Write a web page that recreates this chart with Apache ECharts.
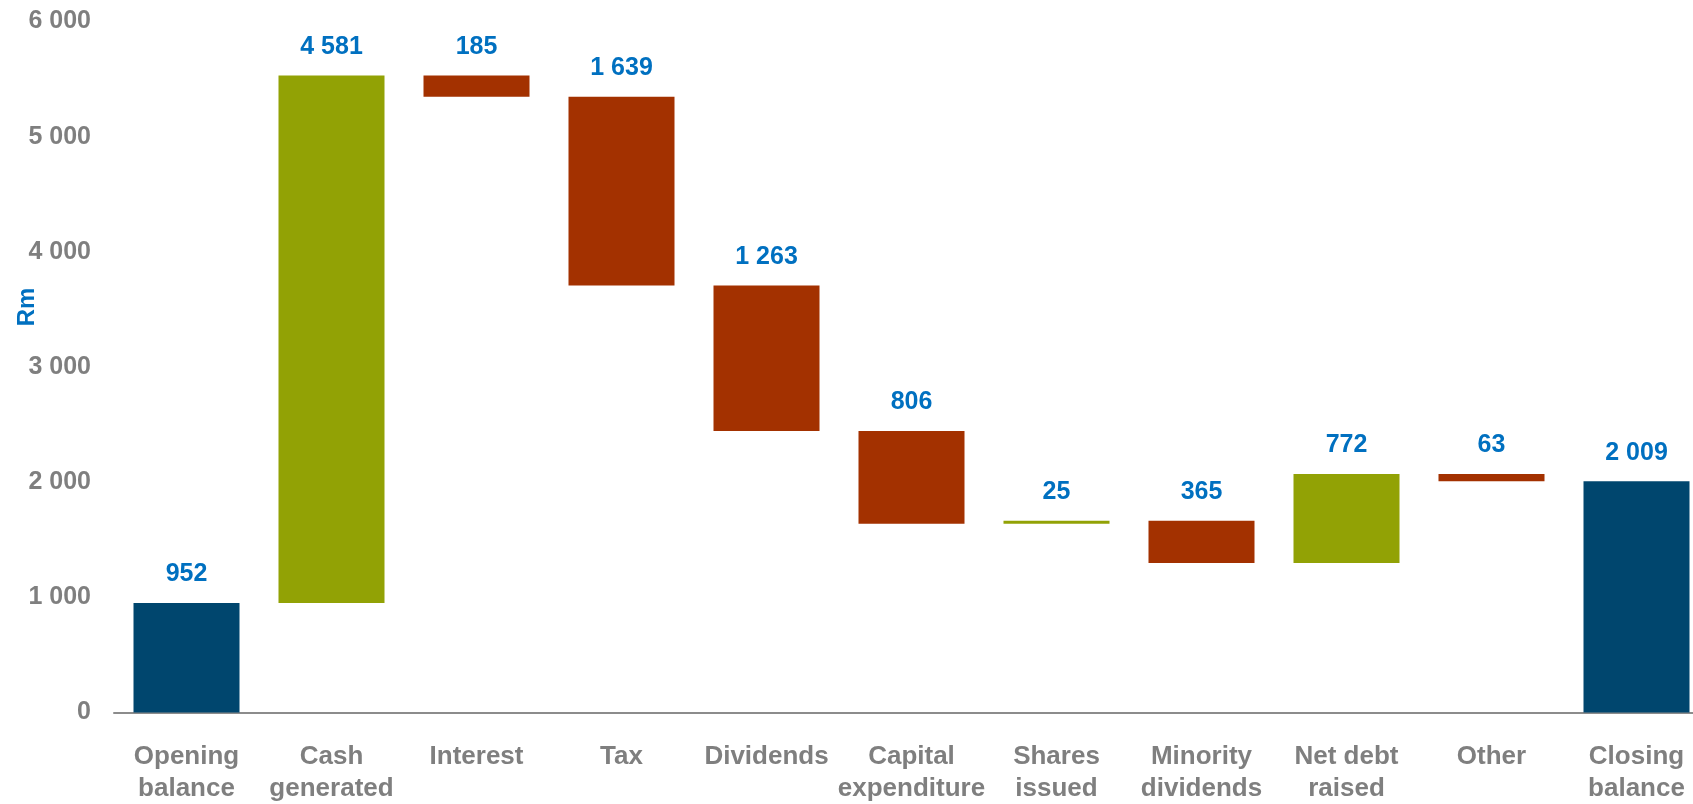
<!DOCTYPE html>
<html>
<head>
<meta charset="utf-8">
<title>Cash flow waterfall</title>
<script src="https://cdn.jsdelivr.net/npm/echarts@6/dist/echarts.min.js"></script>
<style>
  html, body { margin: 0; padding: 0; background: #ffffff; }
  #chart { width: 1693px; height: 804px; }
</style>
</head>
<body>
<div id="chart"></div>
<script>
// Cash movement, Rm
const categories = [
  'Opening\nbalance', 'Cash\ngenerated', 'Interest', 'Tax', 'Dividends',
  'Capital\nexpenditure', 'Shares\nissued', 'Minority\ndividends',
  'Net debt\nraised', 'Other', 'Closing\nbalance'
];
const amounts = [952, 4581, 185, 1639, 1263, 806, 25, 365, 772, 63, 2009];
// 'total' bars stand on zero; 'up' adds to the running balance, 'down' subtracts
const kinds = ['total', 'up', 'down', 'down', 'down', 'down', 'up', 'down', 'up', 'down', 'total'];
const yTicks = [0, 1000, 2000, 3000, 4000, 5000, 6000];

const colors = { total: '#00466E', up: '#92A205', down: '#A33100' };
const textGray = '#7F7F7F';
const valueBlue = '#0070C0';
const fontFamily = '"Liberation Sans", Arial, sans-serif';

function fmt(v) {
  return String(v).replace(/\B(?=(\d{3})+(?!\d))/g, ' ');
}

// running balance -> invisible base + visible segment for each bar
const bases = [];
const segments = [];
let running = 0;
amounts.forEach((v, i) => {
  const k = kinds[i];
  if (k === 'total') {
    bases.push(0);
    running = v;
  } else if (k === 'up') {
    bases.push(running);
    running += v;
  } else {
    running -= v;
    bases.push(running);
  }
  segments.push({ value: v, itemStyle: { color: colors[k] } });
});

const chart = echarts.init(document.getElementById('chart'), null, { renderer: 'canvas' });
chart.setOption({
  animation: false,
  backgroundColor: '#ffffff',
  // the plot runs slightly past the right edge, so the last bar sits flush with it
  grid: {
    left: 114, right: -16, top: 21.6, bottom: 91.4,
    containLabel: false,
    outerBoundsMode: 'none'
  },
  xAxis: {
    type: 'category',
    data: categories,
    axisLine: { show: true, lineStyle: { color: '#8C8C8C', width: 2 } },
    axisTick: { show: false },
    axisLabel: {
      interval: 0,
      margin: 28,
      color: textGray,
      fontFamily: fontFamily,
      fontWeight: 'bold',
      fontSize: 26,
      lineHeight: 32
    }
  },
  yAxis: {
    type: 'value',
    min: yTicks[0],
    max: yTicks[yTicks.length - 1],
    interval: 1000,
    splitLine: { show: false },
    axisLine: { show: false },
    axisTick: { show: false },
    axisLabel: {
      margin: 23,
      color: textGray,
      fontFamily: fontFamily,
      fontWeight: 'bold',
      fontSize: 25,
      formatter: v => fmt(v)
    }
  },
  graphic: [{
    type: 'text',
    x: 27,
    y: 307,
    rotation: Math.PI / 2,
    style: {
      text: 'Rm',
      fill: valueBlue,
      font: 'bold 24px ' + fontFamily,
      align: 'center',
      verticalAlign: 'middle'
    }
  }],
  series: [
    {
      type: 'bar',
      stack: 'flow',
      data: bases,
      barWidth: 106,
      itemStyle: { color: 'transparent' },
      emphasis: { disabled: true },
      silent: true
    },
    {
      type: 'bar',
      stack: 'flow',
      data: segments,
      barWidth: 106,
      label: {
        show: true,
        position: 'top',
        distance: 16,
        color: valueBlue,
        fontFamily: fontFamily,
        fontWeight: 'bold',
        fontSize: 25,
        formatter: p => fmt(p.value)
      }
    }
  ]
});
</script>
</body>
</html>
